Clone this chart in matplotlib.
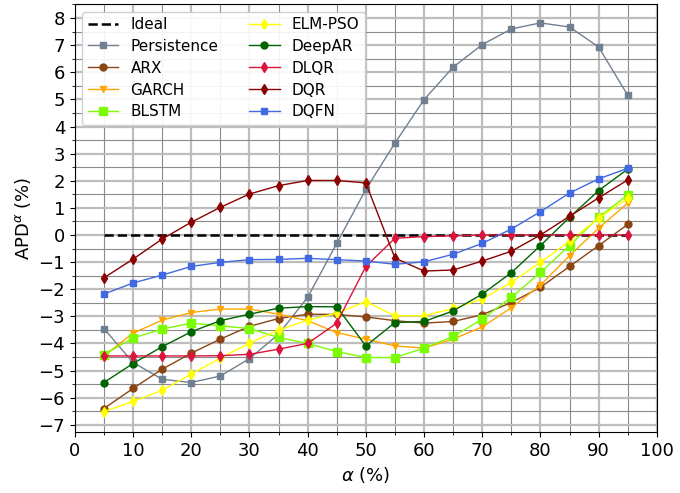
import matplotlib
matplotlib.use("Agg")
import matplotlib.pyplot as plt
from matplotlib.ticker import MultipleLocator

alpha = [5, 10, 15, 20, 25, 30, 35, 40, 45, 50, 55, 60, 65, 70, 75, 80, 85, 90, 95]
ideal = [0] * 19
persistence = [-3.45, -4.7, -5.32, -5.44, -5.20, -4.56, -3.66, -2.30, -0.31, 1.68, 3.39, 4.99, 6.19, 7.02, 7.60, 7.82, 7.67, 6.93, 5.15]
arx = [-6.40, -5.66, -4.95, -4.36, -3.84, -3.37, -3.08, -2.92, -2.93, -3.02, -3.16, -3.25, -3.19, -2.94, -2.49, -1.93, -1.16, -0.39, 0.39]
garch = [-4.46, -3.62, -3.14, -2.86, -2.73, -2.73, -2.92, -3.16, -3.60, -3.84, -4.09, -4.17, -3.84, -3.39, -2.68, -1.85, -0.76, 0.25, 1.18]
blstm = [-4.41, -3.80, -3.47, -3.25, -3.35, -3.45, -3.78, -4.00, -4.30, -4.52, -4.52, -4.17, -3.74, -3.10, -2.30, -1.38, -0.39, 0.65, 1.48]
elm_pso = [-6.51, -6.14, -5.73, -5.13, -4.54, -3.99, -3.51, -3.14, -2.88, -2.46, -2.98, -2.98, -2.71, -2.36, -1.75, -1.01, -0.23, 0.62, 1.35]
deepar = [-5.44, -4.74, -4.12, -3.57, -3.16, -2.92, -2.70, -2.64, -2.65, -4.09, -3.23, -3.19, -2.80, -2.18, -1.39, -0.39, 0.65, 1.64, 2.43]
dlqr = [-4.46, -4.46, -4.46, -4.46, -4.45, -4.40, -4.21, -4.00, -3.25, -1.16, -0.12, -0.06, -0.03, 0.0, 0.0, 0.0, 0.0, 0.0, 0.0]
dqr = [-1.58, -0.89, -0.15, 0.47, 1.02, 1.51, 1.82, 2.01, 2.01, 1.92, -0.85, -1.33, -1.29, -0.96, -0.60, 0.0, 0.69, 1.37, 2.03]
dqfn = [-2.18, -1.77, -1.48, -1.16, -1.01, -0.91, -0.90, -0.86, -0.91, -0.96, -1.08, -0.99, -0.71, -0.31, 0.22, 0.86, 1.55, 2.07, 2.46]

series = [
    ("Persistence", persistence, "slategray", "s", 5),
    ("ARX", arx, "saddlebrown", "o", 5),
    ("GARCH", garch, "#FFA500", "v", 5),
    ("BLSTM", blstm, "lawngreen", "s", 6),
    ("ELM-PSO", elm_pso, "yellow", "d", 5),
    ("DeepAR", deepar, "darkgreen", "o", 5),
    ("DLQR", dlqr, "crimson", "d", 5),
    ("DQR", dqr, "darkred", "d", 5),
    ("DQFN", dqfn, "royalblue", "s", 5),
]

fig = plt.figure(figsize=(6.8, 4.93), dpi=100)
ax = fig.add_axes([0.110, 0.124, 0.856, 0.868])

ax.plot(alpha, ideal, "--", color="black", lw=1.8, label="Ideal", zorder=3)
for name, vals, col, mk, ms in series:
    ax.plot(alpha, vals, color=col, marker=mk, ms=ms, lw=1.0, label=name, zorder=4)

ax.set_xlim(0, 100)
ax.set_ylim(-7.26, 8.52)
ax.xaxis.set_major_locator(MultipleLocator(10))
ax.xaxis.set_minor_locator(MultipleLocator(5))
ax.yaxis.set_major_locator(MultipleLocator(1))
ax.yaxis.set_minor_locator(MultipleLocator(0.5))
ax.grid(which="major", color="#bdbdbd", lw=1.6, zorder=0)
ax.grid(which="minor", color="#8a8a8a", lw=0.8, zorder=0)
ax.set_axisbelow(True)
ax.tick_params(labelsize=13)
ax.set_xlabel(r"$\alpha$ (%)", fontsize=13)
ax.set_ylabel(r"APD$^{\alpha}$ (%)", fontsize=13)

ax.legend(loc="upper left", ncol=2, fontsize=11, framealpha=0.9,
          handlelength=2.0, columnspacing=2.0, labelspacing=0.45,
          borderpad=0.35, handletextpad=0.8)

fig.savefig("out.png", dpi=100)
